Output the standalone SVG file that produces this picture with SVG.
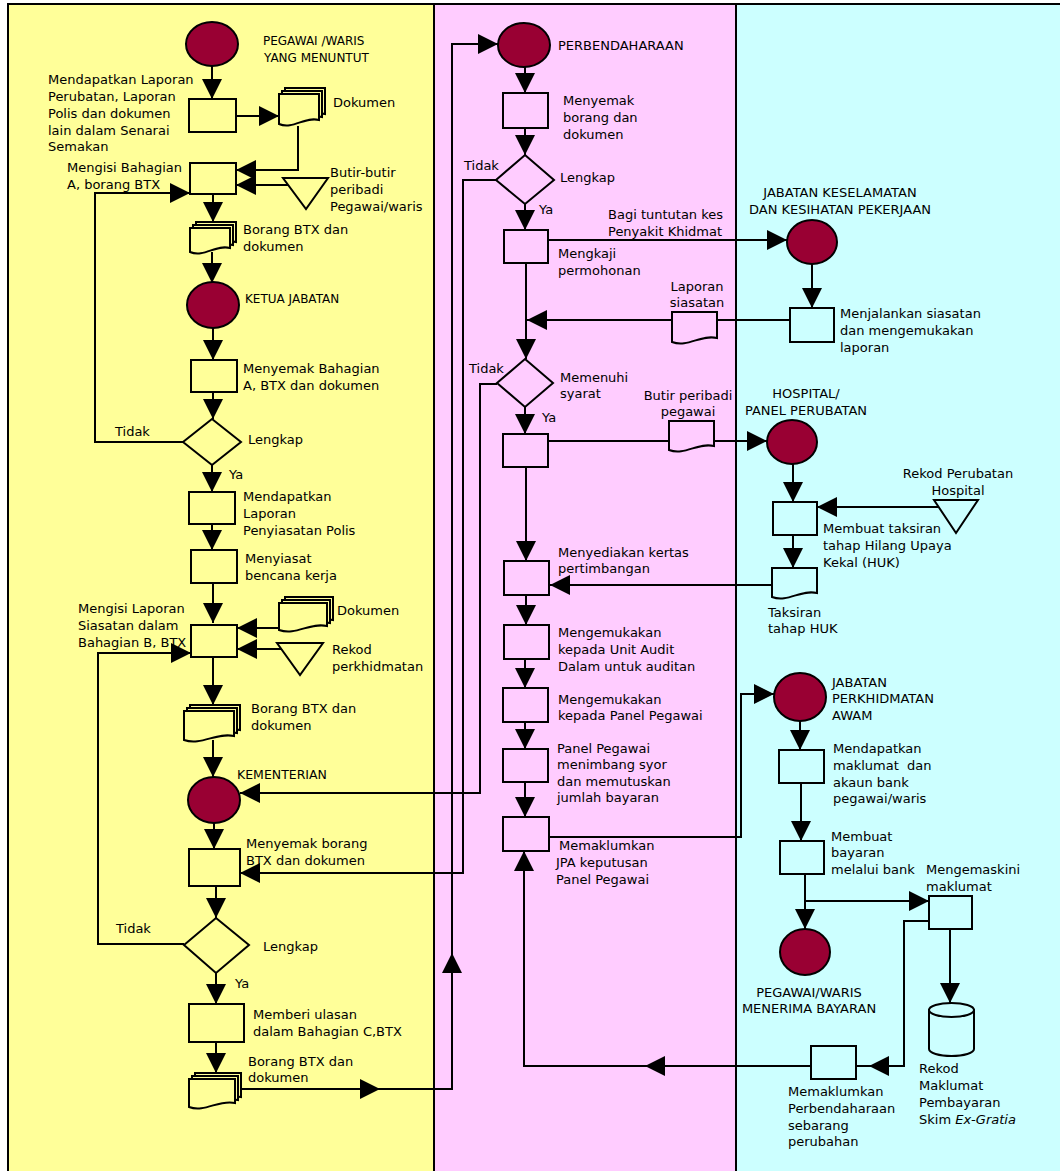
<svg xmlns="http://www.w3.org/2000/svg" width="1060" height="1171" viewBox="0 0 1060 1171">
<defs>
<style>
.t{font-family:"DejaVu Sans",Verdana,sans-serif;font-size:13px;fill:#000}
.h{font-size:12px}
.m{text-anchor:middle}
.s{stroke:#000;stroke-width:2}
.y{fill:#FFFF99}
.p{fill:#FFCCFF}
.c{fill:#CCFFFF}
.e{fill:#990033;stroke:#000;stroke-width:2}
.l{fill:none;stroke:#000;stroke-width:2}
.a{marker-end:url(#ah)}
</style>
<marker id="ah" markerUnits="userSpaceOnUse" viewBox="0 0 20 20" markerWidth="20" markerHeight="20" refX="20" refY="10" orient="auto"><path d="M0,0 L20,10 L0,20 Z" fill="#000"/></marker>
</defs>
<rect width="1060" height="1171" fill="#fff"/>
<g id="lanes">
<rect x="8" y="4" width="426" height="1167" fill="#FFFF99"/>
<rect x="434" y="4" width="302" height="1167" fill="#FFCCFF"/>
<rect x="736" y="4" width="324" height="1167" fill="#CCFFFF"/>
<path class="l" d="M8,1171 V4 H1060 M434,4 V1171 M736,4 V1171"/>
</g>
<g id="connectors">
<path class="l a" d="M212,66 V99"/>
<path class="l a" d="M236,116 H279"/>
<path class="l a" d="M298,126 V170 H236"/>
<path class="l a" d="M288,185 H236"/>
<path class="l a" d="M183,442 H95 V193 H190"/>
<path class="l a" d="M213,194 V222"/>
<path class="l a" d="M212,252 V283"/>
<path class="l a" d="M213,328 V360"/>
<path class="l a" d="M213,392 V419"/>
<path class="l a" d="M212,465 V492"/>
<path class="l a" d="M212,524 V550"/>
<path class="l a" d="M213,583 V623"/>
<path class="l a" d="M279,628 H237"/>
<path class="l a" d="M281,649 H237"/>
<path class="l a" d="M184,944 H98 V653 H191"/>
<path class="l a" d="M213,657 V705"/>
<path class="l a" d="M213,740 V777"/>
<path class="l a" d="M214,823 V849"/>
<path class="l a" d="M216,886 V918"/>
<path class="l a" d="M216,973 V1004"/>
<path class="l a" d="M216,1042 V1073"/>
<path class="l a" d="M241,1089 H380"/>
<path class="l a" d="M380,1089 H452 V953"/>
<path class="l a" d="M452,953 V44 H498"/>
<path class="l a" d="M525,67 V93"/>
<path class="l a" d="M525,128 V155"/>
<path class="l a" d="M496,180 H463 V873 H240"/>
<path class="l a" d="M525,204 V230"/>
<path class="l a" d="M548,240 H787"/>
<path class="l a" d="M526,263 V359"/>
<path class="l" d="M790,320 H717"/>
<path class="l a" d="M672,320 H527"/>
<path class="l a" d="M497,384 H480 V793 H240"/>
<path class="l a" d="M525,407 V434"/>
<path class="l" d="M548,441 H669"/>
<path class="l a" d="M714,441 H767"/>
<path class="l a" d="M526,467 V561"/>
<path class="l a" d="M772,585 H550"/>
<path class="l a" d="M526,595 V625"/>
<path class="l a" d="M525,659 V688"/>
<path class="l a" d="M525,722 V749"/>
<path class="l a" d="M525,782 V817"/>
<path class="l a" d="M549,837 H741 V694 H774"/>
<path class="l a" d="M811,1066 H645"/>
<path class="l a" d="M645,1066 H524 V851"/>
<path class="l a" d="M812,264 V308"/>
<path class="l a" d="M793,464 V502"/>
<path class="l a" d="M938,507 H817"/>
<path class="l a" d="M793,535 V568"/>
<path class="l a" d="M800,721 V750"/>
<path class="l a" d="M801,783 V841"/>
<path class="l a" d="M805,874 V929"/>
<path class="l a" d="M805,901 H929"/>
<path class="l a" d="M950,929 V1003"/>
<path class="l a" d="M929,921 H904 V1066 H869"/>
<path class="l" d="M869,1066 H856"/>
<text class="t" x="115" y="436">Tidak</text>
<text class="t" x="229" y="479">Ya</text>
<text class="t" x="116" y="933">Tidak</text>
<text class="t" x="235" y="988">Ya</text>
<text class="t" x="464" y="170">Tidak</text>
<text class="t" x="539" y="214">Ya</text>
<text class="t" x="469" y="373">Tidak</text>
<text class="t" x="542" y="422">Ya</text>
<text class="t" x="608" y="219">Bagi tuntutan kes</text>
<text class="t" x="608" y="236">Penyakit Khidmat</text>
</g>

<g id="n-pegawai-waris">
<ellipse class="e" cx="212" cy="44" rx="26" ry="22"/>
<text class="t h" x="263" y="45">PEGAWAI /WARIS</text>
<text class="t h" x="264" y="62">YANG MENUNTUT</text>
</g>
<g id="n-mendapatkan-laporan">
<rect class="s y" x="189" y="99" width="47" height="33"/>
<text class="t" x="48" y="84">Mendapatkan Laporan</text>
<text class="t" x="48" y="101">Perubatan, Laporan</text>
<text class="t" x="48" y="118">Polis dan dokumen</text>
<text class="t" x="48" y="135">lain dalam Senarai</text>
<text class="t" x="48" y="151">Semakan</text>
</g>
<g id="n-dokumen1">
<path class="s y" d="M285,88 H325 V114 C311,110 299,124 285,118 Z"/>
<path class="s y" d="M282,91 H322 V117 C308,113 296,127 282,121 Z"/>
<path class="s y" d="M279,94 H319 V120 C305,116 293,130 279,124 Z"/>
<text class="t" x="333" y="107">Dokumen</text>
</g>
<g id="n-mengisi-a">
<rect class="s y" x="190" y="163" width="46" height="31"/>
<text class="t" x="67" y="172">Mengisi Bahagian</text>
<text class="t" x="67" y="189">A, borang BTX</text>
</g>
<g id="n-butir">
<polygon class="s y" points="283,178 328,178 306,209"/>
<text class="t" x="330" y="177">Butir-butir</text>
<text class="t" x="330" y="194">peribadi</text>
<text class="t" x="330" y="211">Pegawai/waris</text>
</g>
<g id="n-borang1">
<path class="s y" d="M196,222 H236 V242 C222,238 210,252 196,246 Z"/>
<path class="s y" d="M193,225 H233 V245 C219,241 207,255 193,249 Z"/>
<path class="s y" d="M190,228 H230 V248 C216,244 204,258 190,252 Z"/>
<text class="t" x="243" y="234">Borang BTX dan</text>
<text class="t" x="243" y="251">dokumen</text>
</g>
<g id="n-ketua">
<ellipse class="e" cx="213" cy="305" rx="26" ry="23"/>
<text class="t h" x="245" y="303">KETUA JABATAN</text>
</g>
<g id="n-menyemak-a">
<rect class="s y" x="191" y="360" width="46" height="32"/>
<text class="t" x="243" y="373">Menyemak Bahagian</text>
<text class="t" x="243" y="390">A, BTX dan dokumen</text>
</g>
<g id="n-lengkap1">
<polygon class="s y" points="212,419 241,442 212,465 183,442"/>
<text class="t" x="248" y="444">Lengkap</text>
</g>
<g id="n-laporan-polis">
<rect class="s y" x="189" y="492" width="46" height="32"/>
<text class="t" x="243" y="501">Mendapatkan</text>
<text class="t" x="243" y="518">Laporan</text>
<text class="t" x="243" y="535">Penyiasatan Polis</text>
</g>
<g id="n-menyiasat">
<rect class="s y" x="191" y="550" width="46" height="33"/>
<text class="t" x="245" y="563">Menyiasat</text>
<text class="t" x="245" y="580">bencana kerja</text>
</g>
<g id="n-mengisi-b">
<rect class="s y" x="191" y="625" width="46" height="32"/>
<text class="t" x="78" y="613">Mengisi Laporan</text>
<text class="t" x="78" y="630">Siasatan dalam</text>
<text class="t" x="78" y="647">Bahagian B, BTX</text>
</g>
<g id="n-dokumen2">
<path class="s y" d="M285,597 H333 V620 C316,616 302,630 285,624 Z"/>
<path class="s y" d="M282,600 H330 V623 C313,619 299,633 282,627 Z"/>
<path class="s y" d="M279,603 H327 V626 C310,622 296,636 279,630 Z"/>
<text class="t" x="337" y="615">Dokumen</text>
</g>
<g id="n-rekod-perkhidmatan">
<polygon class="s y" points="277,643 323,643 300,675"/>
<text class="t" x="332" y="654">Rekod</text>
<text class="t" x="332" y="671">perkhidmatan</text>
</g>
<g id="n-borang2">
<path class="s y" d="M190,705 H240 V730 C222.5,726 207.5,740 190,734 Z"/>
<path class="s y" d="M187,708 H237 V733 C219.5,729 204.5,743 187,737 Z"/>
<path class="s y" d="M184,711 H234 V736 C216.5,732 201.5,746 184,740 Z"/>
<text class="t" x="251" y="713">Borang BTX dan</text>
<text class="t" x="251" y="730">dokumen</text>
</g>
<g id="n-kementerian">
<ellipse class="e" cx="214" cy="800" rx="26" ry="23"/>
<text class="t" style="font-size:12.5px" x="237" y="779">KEMENTERIAN</text>
</g>
<g id="n-menyemak-borang">
<rect class="s y" x="189" y="849" width="51" height="37"/>
<text class="t" x="246" y="848">Menyemak borang</text>
<text class="t" x="246" y="865">BTX dan dokumen</text>
</g>
<g id="n-lengkap2">
<polygon class="s y" points="216,918 249,945 216,973 184,945"/>
<text class="t" x="263" y="951">Lengkap</text>
</g>
<g id="n-ulasan">
<rect class="s y" x="189" y="1004" width="55" height="38"/>
<text class="t" x="253" y="1019">Memberi ulasan</text>
<text class="t" x="253" y="1036">dalam Bahagian C,BTX</text>
</g>
<g id="n-borang3">
<path class="s y" d="M195,1073 H241 V1097 C225,1093 211,1107 195,1101 Z"/>
<path class="s y" d="M192,1076 H238 V1100 C222,1096 208,1110 192,1104 Z"/>
<path class="s y" d="M189,1079 H235 V1103 C219,1099 205,1113 189,1107 Z"/>
<text class="t" x="248" y="1066">Borang BTX dan</text>
<text class="t" x="248" y="1082">dokumen</text>
</g>

<g id="n-perbendaharaan">
<ellipse class="e" cx="524" cy="45" rx="26" ry="22"/>
<text class="t" x="558" y="50">PERBENDAHARAAN</text>
</g>
<g id="n-p-menyemak">
<rect class="s p" x="503" y="93" width="45" height="35"/>
<text class="t" x="563" y="105">Menyemak</text>
<text class="t" x="563" y="122">borang dan</text>
<text class="t" x="563" y="139">dokumen</text>
</g>
<g id="n-p-lengkap">
<polygon class="s p" points="525,155 554,180 525,204 496,180"/>
<text class="t" x="560" y="182">Lengkap</text>
</g>
<g id="n-p-mengkaji">
<rect class="s p" x="504" y="230" width="44" height="33"/>
<text class="t" x="558" y="258">Mengkaji</text>
<text class="t" x="558" y="275">permohonan</text>
</g>
<g id="n-laporan-siasatan">
<path class="s p" d="M672,312 H717 V338 C701,334 688,348 672,342 Z"/>
<text class="t m" x="697" y="291">Laporan</text>
<text class="t m" x="697" y="307">siasatan</text>
</g>
<g id="n-p-memenuhi">
<polygon class="s p" points="525,359 553,383 525,407 497,383"/>
<text class="t" x="560" y="382">Memenuhi</text>
<text class="t" x="560" y="398">syarat</text>
</g>
<g id="n-p-rect3">
<rect class="s p" x="503" y="434" width="45" height="33"/>
</g>
<g id="n-butir-pegawai">
<path class="s p" d="M669,421 H714 V446 C698,442 685,456 669,450 Z"/>
<text class="t m" x="688" y="400">Butir peribadi</text>
<text class="t m" x="688" y="416">pegawai</text>
</g>
<g id="n-p-kertas">
<rect class="s p" x="504" y="561" width="45" height="34"/>
<text class="t" x="558" y="557">Menyediakan kertas</text>
<text class="t" x="558" y="573">pertimbangan</text>
</g>
<g id="n-p-audit">
<rect class="s p" x="504" y="625" width="45" height="34"/>
<text class="t" x="558" y="637">Mengemukakan</text>
<text class="t" x="558" y="654">kepada Unit Audit</text>
<text class="t" x="558" y="671">Dalam untuk auditan</text>
</g>
<g id="n-p-panel">
<rect class="s p" x="503" y="688" width="45" height="34"/>
<text class="t" x="558" y="704">Mengemukakan</text>
<text class="t" x="558" y="720">kepada Panel Pegawai</text>
</g>
<g id="n-p-menimbang">
<rect class="s p" x="503" y="749" width="45" height="33"/>
<text class="t" x="557" y="753">Panel Pegawai</text>
<text class="t" x="557" y="769">menimbang syor</text>
<text class="t" x="557" y="786">dan memutuskan</text>
<text class="t" x="557" y="802">jumlah bayaran</text>
</g>
<g id="n-p-memaklumkan">
<rect class="s p" x="503" y="817" width="46" height="34"/>
<text class="t" x="559" y="850">Memaklumkan</text>
<text class="t" x="556" y="867">JPA keputusan</text>
<text class="t" x="556" y="884">Panel Pegawai</text>
</g>

<g id="n-jkkp">
<ellipse class="e" cx="812" cy="242" rx="25" ry="22"/>
<text class="t m" x="840" y="197">JABATAN KESELAMATAN</text>
<text class="t m" x="840" y="214">DAN KESIHATAN PEKERJAAN</text>
</g>
<g id="n-c-menjalankan">
<rect class="s c" x="790" y="308" width="44" height="34"/>
<text class="t" x="840" y="318">Menjalankan siasatan</text>
<text class="t" x="840" y="335">dan mengemukakan</text>
<text class="t" x="840" y="352">laporan</text>
</g>
<g id="n-hospital">
<ellipse class="e" cx="792" cy="442" rx="25" ry="22"/>
<text class="t m" x="806" y="398">HOSPITAL/</text>
<text class="t m" x="806" y="415">PANEL PERUBATAN</text>
</g>
<g id="n-rekod-hospital">
<polygon class="s c" points="934,500 978,500 956,533"/>
<text class="t m" x="958" y="478">Rekod Perubatan</text>
<text class="t m" x="958" y="495">Hospital</text>
</g>
<g id="n-c-taksiran">
<rect class="s c" x="773" y="502" width="44" height="33"/>
<text class="t" x="823" y="533">Membuat taksiran</text>
<text class="t" x="823" y="550">tahap Hilang Upaya</text>
<text class="t" x="823" y="567">Kekal (HUK)</text>
</g>
<g id="n-taksiran-huk">
<path class="s c" d="M772,568 H817 V593 C801,589 788,603 772,597 Z"/>
<text class="t" x="768" y="617">Taksiran</text>
<text class="t" x="768" y="633">tahap HUK</text>
</g>
<g id="n-jpa">
<ellipse class="e" cx="800" cy="697" rx="26" ry="24"/>
<text class="t" x="832" y="687">JABATAN</text>
<text class="t" x="832" y="703">PERKHIDMATAN</text>
<text class="t" x="832" y="720">AWAM</text>
</g>
<g id="n-c-maklumat">
<rect class="s c" x="779" y="750" width="45" height="33"/>
<text class="t" x="833" y="753">Mendapatkan</text>
<text class="t" x="833" y="770">maklumat&#160; dan</text>
<text class="t" x="833" y="787">akaun bank</text>
<text class="t" x="833" y="803">pegawai/waris</text>
</g>
<g id="n-c-bayaran">
<rect class="s c" x="780" y="841" width="44" height="33"/>
<text class="t" x="831" y="841">Membuat</text>
<text class="t" x="831" y="857">bayaran</text>
<text class="t" x="831" y="874">melalui bank</text>
</g>
<g id="n-c-kemaskini">
<rect class="s c" x="929" y="896" width="43" height="33"/>
<text class="t" x="926" y="874">Mengemaskini</text>
<text class="t" x="926" y="891">maklumat</text>
</g>
<g id="n-terima">
<ellipse class="e" cx="805" cy="952" rx="25" ry="23"/>
<text class="t m" x="809" y="997">PEGAWAI/WARIS</text>
<text class="t m" x="809" y="1013">MENERIMA BAYARAN</text>
</g>
<g id="n-rekod-db">
<path class="s c" d="M929,1010 V1049 A22.5,7 0 0 0 974,1049 V1010 Z"/>
<ellipse class="s c" cx="951.5" cy="1010" rx="22.5" ry="7"/>
<text class="t" x="919" y="1073">Rekod</text>
<text class="t" x="919" y="1090">Maklumat</text>
<text class="t" x="919" y="1107">Pembayaran</text>
<text class="t" x="919" y="1124">Skim <tspan font-style="italic">Ex-Gratia</tspan></text>
</g>
<g id="n-c-memaklumkan">
<rect class="s c" x="811" y="1046" width="45" height="33"/>
<text class="t" x="788" y="1096">Memaklumkan</text>
<text class="t" x="788" y="1113">Perbendaharaan</text>
<text class="t" x="788" y="1130">sebarang</text>
<text class="t" x="788" y="1146">perubahan</text>
</g>
</svg>
